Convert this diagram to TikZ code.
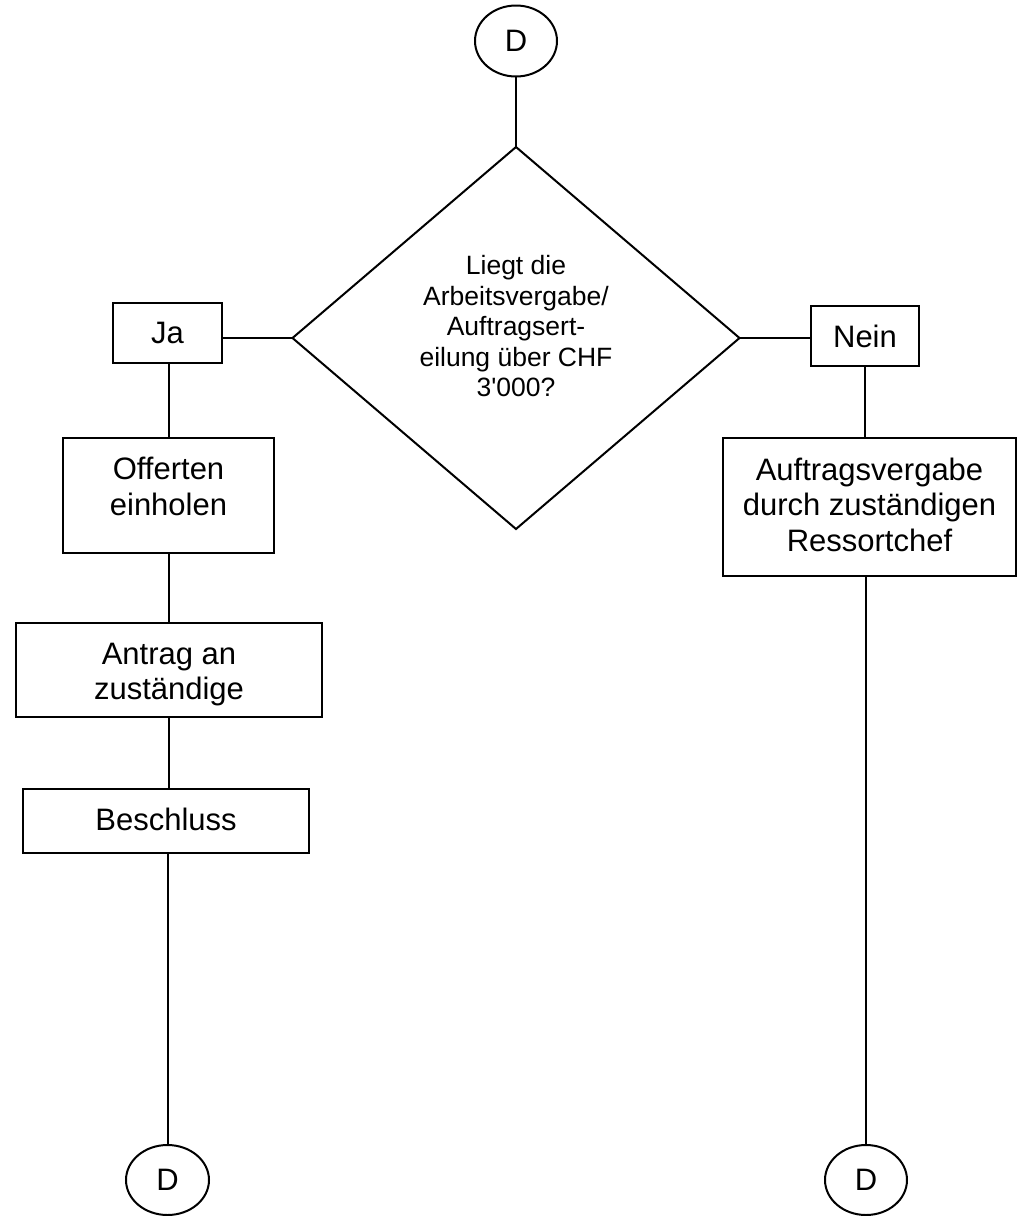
\documentclass[tikz,border=0pt]{standalone}
\usepackage{fontspec}
\setmainfont{Liberation Sans}[Ligatures=TeXOff]
\usetikzlibrary{shapes.geometric}
\begin{document}
\begin{tikzpicture}[x=1pt,y=-1pt,
  every node/.style={inner sep=0pt, outer sep=0pt},
  boxfont/.style={font=\fontsize{31}{35.5}\selectfont, align=center, text depth=0pt},
  qfont/.style={font=\fontsize{26.5}{30.5}\selectfont, align=center, text depth=0pt},
  stepbox/.style={draw, line width=2pt, rectangle},
  connector/.style={draw, ellipse, line width=2pt, font=\fontsize{31}{35.5}\selectfont},
  decision/.style={draw, diamond, line width=2pt},
  link/.style={line width=2pt}]
  \useasboundingbox (0,0) rectangle (1017,1216);
  \fill[white] (0,0) rectangle (1017,1216);

  % entry connector
  \node[connector, minimum width=82pt, minimum height=71pt] (dtop) at (516,41) {D};

  % decision
  \node[decision, minimum width=447pt, minimum height=382pt] (dia) at (516,338) {};
  \node[qfont] (diaT) at (516,326) {Liegt die\\Arbeitsvergabe/\\Auftragsert-\\eilung über CHF\\3'000?};

  % answers
  \node[stepbox, minimum width=109pt, minimum height=60pt] (ja) at (167.5,333) {};
  \node[boxfont] (jaT) at (167.5,333) {Ja};
  \node[stepbox, minimum width=108pt, minimum height=60pt] (nein) at (865,336) {};
  \node[boxfont] (neinT) at (865,336) {Nein};

  % left branch
  \node[stepbox, minimum width=211pt, minimum height=115pt] (off) at (168.5,495.5) {};
  \node[boxfont] (offT) at (168.5,486.5) {Offerten\\einholen};
  \node[stepbox, minimum width=306pt, minimum height=94pt] (ant) at (169,670) {};
  \node[boxfont] (antT) at (169,671.5) {Antrag an\\zuständige};
  \node[stepbox, minimum width=286pt, minimum height=64pt] (bes) at (166,821) {};
  \node[boxfont] (besT) at (166,819) {Beschluss};
  \node[connector, minimum width=83pt, minimum height=70pt] (dl) at (167.5,1180) {D};

  % right branch
  \node[stepbox, minimum width=293pt, minimum height=138pt] (auf) at (869.5,507) {};
  \node[boxfont] (aufT) at (869.5,504.5) {Auftragsvergabe\\durch zuständigen\\Ressortchef};
  \node[connector, minimum width=82pt, minimum height=70pt] (dr) at (866,1180) {D};

  % connectors
  \draw[link] (dtop.south) -- (dia.north);
  \draw[link] (dia.west) -- (dia.west -| ja.east);
  \draw[link] (dia.east) -- (dia.east -| nein.west);
  \draw[link] (off.north) -- (off.north |- ja.south);
  \draw[link] (off.south) -- (off.south |- ant.north);
  \draw[link] (ant.south) -- (ant.south |- bes.north);
  \draw[link] (dl.north) -- (dl.north |- bes.south);
  \draw[link] (nein.south) -- (nein.south |- auf.north);
  \draw[link] (dr.north) -- (dr.north |- auf.south);
\end{tikzpicture}
\end{document}
